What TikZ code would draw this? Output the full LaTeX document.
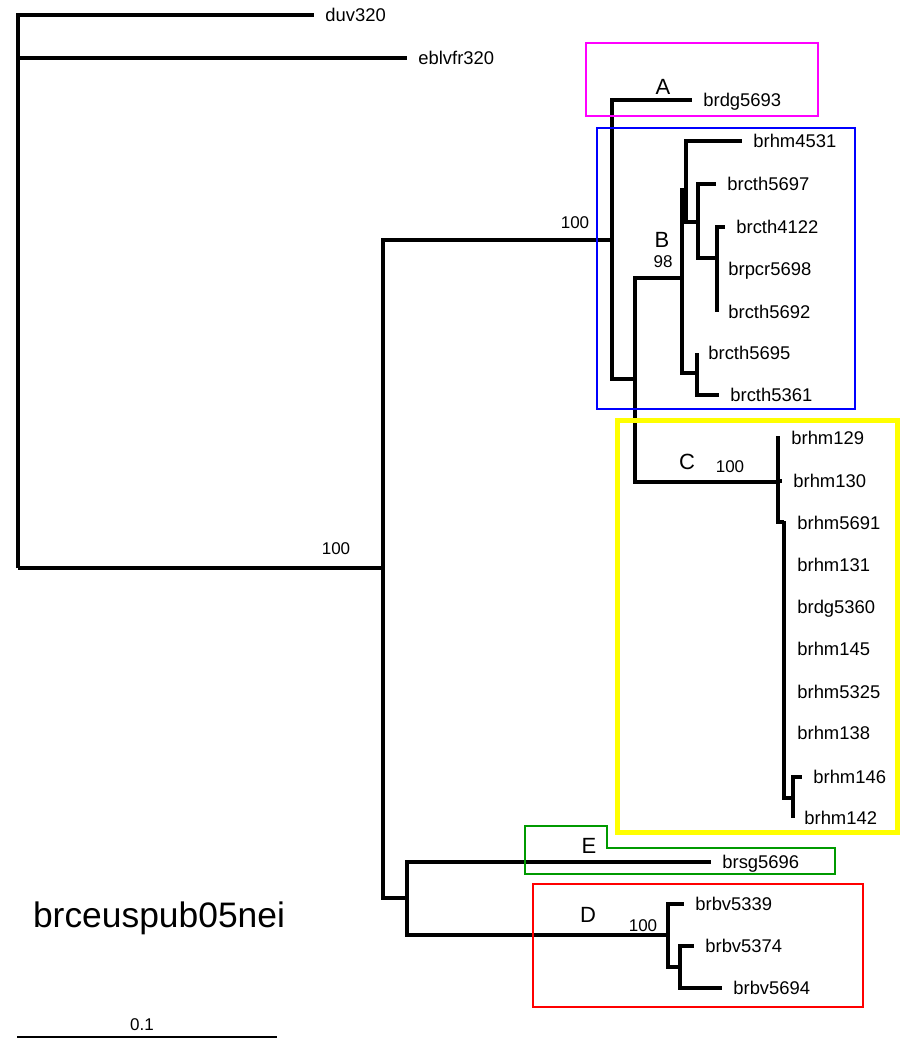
\documentclass[tikz,border=0pt]{standalone}
\usepackage{fontspec}
\setmainfont{Liberation Sans}
\usetikzlibrary{positioning}
\definecolor{boxA}{HTML}{FF00FF}
\definecolor{boxB}{HTML}{0000FF}
\definecolor{boxC}{HTML}{FFFF00}
\definecolor{boxD}{HTML}{FF0000}
\definecolor{boxE}{HTML}{009A00}

\begin{document}
\begin{tikzpicture}[
  x=0.5pt, y=-0.5pt,
  every node/.style={font=\fontsize{9.2}{10}\selectfont},
  leaf/.style={anchor=west, inner xsep=5.5pt, inner ysep=0pt,
               text height=6.5pt, text depth=0pt},
  br/.style={line width=1.7pt},
  boot/.style={font=\fontsize{8.5}{9}\selectfont, inner sep=0pt},
  clade/.style={font=\fontsize{11}{12}\selectfont, inner sep=0pt},
  cbox/.style={line width=1pt},
]
  \useasboundingbox (0,0) rectangle (906,1039);

  % internal nodes
  \coordinate (root) at (18,568);
  \coordinate (n1) at (383,568);
  \coordinate (n2) at (612,240);
  \coordinate (n3) at (635,379);
  \coordinate (nB) at (682,278);
  \coordinate (nB1) at (686,190);
  \coordinate (nX) at (698,222);
  \coordinate (nY) at (717,258);
  \coordinate (nZ) at (697,373);
  \coordinate (nC) at (778,482);
  \coordinate (nC2) at (784,522);
  \coordinate (nC3) at (793,798);
  \coordinate (n5) at (407,898);
  \coordinate (nD) at (668,935);
  \coordinate (nD2) at (680,967);

  % leaves
  \node[leaf] (duv) at (314,15) {duv320};
  \node[leaf] (eblv) at (407,58) {eblvfr320};
  \node[leaf] (dg5693) at (692,100) {brdg5693};
  \node[leaf] (hm4531) at (742,141) {brhm4531};
  \node[leaf] (cth5697) at (716,184) {brcth5697};
  \node[leaf] (cth4122) at (725,227) {brcth4122};
  \node[leaf] (pcr5698) at (717,269) {brpcr5698};
  \node[leaf] (cth5692) at (717,312) {brcth5692};
  \node[leaf] (cth5695) at (697,353) {brcth5695};
  \node[leaf] (cth5361) at (719,395) {brcth5361};
  \node[leaf] (hm129) at (780,438) {brhm129};
  \node[leaf] (hm130) at (782,481) {brhm130};
  \node[leaf] (hm5691) at (786,523) {brhm5691};
  \node[leaf] (hm131) at (786,565) {brhm131};
  \node[leaf] (dg5360) at (786,607) {brdg5360};
  \node[leaf] (hm145) at (786,649) {brhm145};
  \node[leaf] (hm5325) at (786,692) {brhm5325};
  \node[leaf] (hm138) at (786,733) {brhm138};
  \node[leaf] (hm146) at (802,777) {brhm146};
  \node[leaf] (hm142) at (793,818) {brhm142};
  \node[leaf] (sg5696) at (711,862) {brsg5696};
  \node[leaf] (bv5339) at (684,904) {brbv5339};
  \node[leaf] (bv5374) at (694,946) {brbv5374};
  \node[leaf] (bv5694) at (722,988) {brbv5694};

  % branches
  \draw[br] (root) |- (duv.west);
  \draw[br] (root) |- (eblv.west);
  \draw[br] (root) -- (n1);
  \draw[br] (n1) |- (n2);
  \draw[br] (n1) |- (n5);
  \draw[br] (n2) |- (dg5693.west);
  \draw[br] (n2) |- (n3);
  \draw[br] (n3) |- (nB);
  \draw[br] (n3) |- (nC);
  \draw[br] (nB) |- (nB1);
  \draw[br] (nB) |- (nZ);
  \draw[br] (nB1) |- (hm4531.west);
  \draw[br] (nB1) |- (nX);
  \draw[br] (nX) |- (cth5697.west);
  \draw[br] (nX) |- (nY);
  \draw[br] (nY) |- (cth4122.west);
  \draw[br] (nY) |- (pcr5698.west);
  \draw[br] (nY) |- (cth5692.west);
  \draw[br] (nZ) |- (cth5695.west);
  \draw[br] (nZ) |- (cth5361.west);
  \draw[br] (nC) |- (hm129.west);
  \draw[br] (nC) |- (hm130.west);
  \draw[br] (nC) |- (nC2);
  \foreach \lf in {hm5691, hm131, dg5360, hm145, hm5325, hm138}
    \draw[br] (nC2) |- (\lf.west);
  \draw[br] (nC2) |- (nC3);
  \draw[br] (nC3) |- (hm146.west);
  \draw[br] (nC3) |- (hm142.west);
  \draw[br] (n5) |- (sg5696.west);
  \draw[br] (n5) |- (nD);
  \draw[br] (nD) |- (bv5339.west);
  \draw[br] (nD) |- (nD2);
  \draw[br] (nD2) |- (bv5374.west);
  \draw[br] (nD2) |- (bv5694.west);

  % support values and clade letters
  \node[boot] (b1) at (336,549) {100};
  \node[boot] (b2) at (575,223) {100};
  \node[boot] (b3) at (663,262) {98};
  \node[boot] (b4) at (730,467) {100};
  \node[boot] (b5) at (643,926) {100};
  \node[clade] (lA) at (663,87) {A};
  \node[clade] (lB) at (662,240) {B};
  \node[clade] (lC) at (687,462) {C};
  \node[clade] (lD) at (588,915) {D};
  \node[clade] (lE) at (589,846) {E};

  % clade boxes
  \draw[cbox, boxA] (586,43) rectangle (818,116);
  \draw[cbox, boxB] (597,128) rectangle (855,409);
  \draw[cbox, boxC, line width=2.5pt] (617,420) rectangle (897,832);
  \draw[cbox, boxE] (525,826) -- (607,826) -- (607,848) -- (835,848)
    -- (835,874) -- (525,874) -- cycle;
  \draw[cbox, boxD] (533,884) rectangle (863,1007);

  % title and scale
  \node[font=\fontsize{17.7}{20}\selectfont] (title) at (159,918) {brceuspub05nei};
  \coordinate (s0) at (17,1037);
  \coordinate (s1) at (277,1037);
  \draw[line width=1pt] (s0) -- (s1);
  \node[boot] (scl) at (142,1025) {0.1};
\end{tikzpicture}
\end{document}
